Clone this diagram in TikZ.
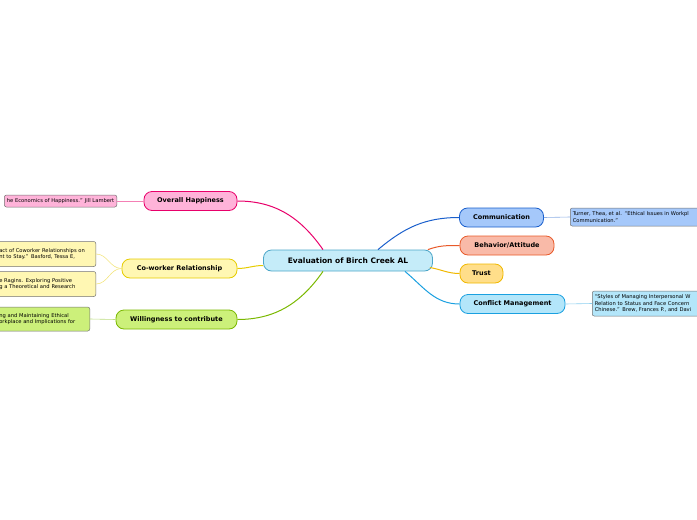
\documentclass[tikz,border=0pt]{standalone}
\usepackage{fontspec}
\setmainfont{DejaVu Sans}
\usetikzlibrary{calc}
\begin{document}
\begin{tikzpicture}[x=1pt,y=-1pt,
  topic/.style={draw,line width=0.8pt,rounded corners=8pt,minimum height=19pt,inner xsep=6pt,font=\fontsize{6.5}{8}\selectfont\bfseries},
  leaf/.style={draw=black!55,line width=0.5pt,rounded corners=2pt,font=\fontsize{5.2}{6.5}\selectfont,align=left,inner sep=2.5pt},
  conn/.style={line width=1pt},
  thin/.style={line width=0.6pt}]
\useasboundingbox (0,0) rectangle (697,520);
\clip (0,0) rectangle (697,520);
\definecolor{cfill}{HTML}{C5ECF9}\definecolor{cbord}{HTML}{4DA6C8}
\definecolor{hfill}{HTML}{FFB3D9}\definecolor{hline}{HTML}{E8006A}
\definecolor{wfill}{HTML}{FFF7B3}\definecolor{wline}{HTML}{E6CC00}
\definecolor{gfill}{HTML}{CCF07A}\definecolor{gline}{HTML}{7AB800}
\definecolor{bfill}{HTML}{A5C8FA}\definecolor{bline}{HTML}{1A5FCC}
\definecolor{ofill}{HTML}{F9BAA8}\definecolor{oline}{HTML}{E85A2A}
\definecolor{tfill}{HTML}{FFDE8A}\definecolor{tline}{HTML}{F0B800}
\definecolor{sfill}{HTML}{B3E6FA}\definecolor{sline}{HTML}{1AA0E0}

\node[topic,draw=cbord,fill=cfill,minimum width=169pt,minimum height=21pt,font=\fontsize{7.5}{9}\selectfont\bfseries] (c) at (348,260.5) {Evaluation of Birch Creek AL};

\node[topic,draw=hline,fill=hfill,minimum width=93pt] (h) at (190.5,201) {Overall Happiness};
\node[topic,draw=wline,fill=wfill,minimum width=115pt] (w) at (179.5,268.5) {Co-worker Relationship};
\node[topic,draw=gline,fill=gfill,minimum width=121pt] (g) at (176.5,319.5) {Willingness to contribute};
\node[topic,draw=bline,fill=bfill,minimum width=84pt] (b) at (501.5,217.5) {Communication};
\node[topic,draw=oline,fill=ofill,minimum width=94pt] (o) at (507,245.5) {Behavior/Attitude};
\node[topic,draw=tline,fill=tfill,minimum width=43pt] (t) at (481.5,273.5) {Trust};
\node[topic,draw=sline,fill=sfill,minimum width=105pt] (s) at (512.5,304) {Conflict Management};

\draw[conn,hline] ($(c.north)+(-25,0)$) to[out=125,in=0] (h.east);
\draw[conn,wline] ($(c.west)+(0,5)$) to[out=180,in=0] (w.east);
\draw[conn,gline] ($(c.south)+(-25,0)$) to[out=235,in=0] (g.east);
\draw[conn,bline] ($(c.north)+(30,0)$) to[out=40,in=180] (b.west);
\draw[conn,oline] ($(c.north east)+(-5,0)$) to[out=20,in=180] (o.west);
\draw[conn,tline] ($(c.east)+(-3,7)$) to[out=-10,in=180] (t.west);
\draw[conn,sline] ($(c.south)+(57,0)$) to[out=-40,in=180] (s.west);

\node[leaf,fill=hfill,anchor=east,minimum height=12pt] (h1) at (117,201) {he Economics of Happiness.” Jill Lambert};
\node[leaf,fill=wfill,anchor=east,minimum height=25pt,text width=94pt] (w1) at (96,254) {act of Coworker Relationships on\\nt to Stay.” Basford, Tessa E,};
\node[leaf,fill=wfill,anchor=east,minimum height=25pt,text width=94pt] (w2) at (96,284) {e Ragins. Exploring Positive\\g a Theoretical and Research};
\node[leaf,fill=gfill,anchor=east,minimum height=24pt,text width=88pt] (g1) at (90,319) {ng and Maintaining Ethical\\orkplace and Implications for};
\node[leaf,fill=bfill,anchor=west,minimum height=18pt,text width=150pt] (b1) at (570,217) {Turner, Thea, et al. “Ethical Issues in Workpl\\Communication.”};
\node[leaf,fill=sfill,anchor=west,minimum height=25pt,text width=150pt] (s1) at (592,303.5) {“Styles of Managing Interpersonal W\\Relation to Status and Face Concern\\Chinese.” Brew, Frances P., and Davi};

\draw[thin,hline!50] (h.west) -- (h1.east);
\draw[thin,wline!50] (w.west) to[out=180,in=0] (w1.east);
\draw[thin,wline!50] (w.west) to[out=180,in=0] (w2.east);
\draw[thin,gline!50] (g.west) -- (g1.east);
\draw[thin,bline!50] (b.east) -- (b1.west);
\draw[thin,sline!50] (s.east) -- (s1.west);
\end{tikzpicture}
\end{document}
